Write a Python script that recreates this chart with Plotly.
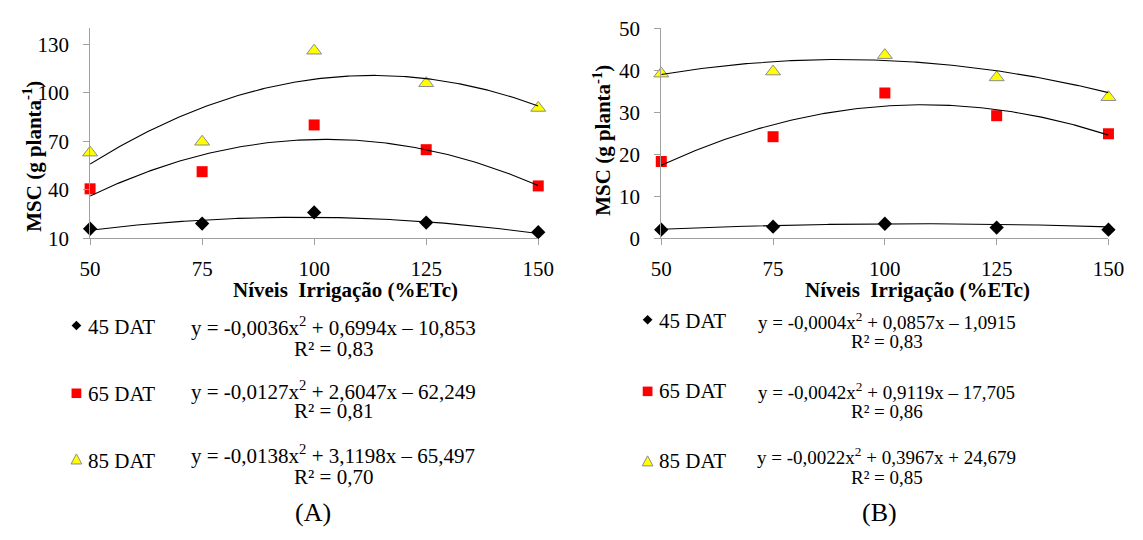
import numpy as np
import plotly.graph_objects as go

W, H = 1143, 540
FONT = "'Liberation Serif', 'Times New Roman', Times, serif"

# ---------------- data ----------------
x_levels = [50, 75, 100, 125, 150]
x_ticks = [50, 75, 100, 125, 150]

# Panel A (MSC, g planta-1)
a_45 = [16.0, 19.2, 26.1, 19.8, 13.9]
a_65 = [40.7, 51.3, 80.2, 64.9, 42.5]
a_85 = [63.1, 69.8, 126.1, 106.0, 90.7]
a_yticks = [10, 40, 70, 100, 130]

# Panel B
b_45 = [2.1, 2.8, 3.5, 2.6, 2.1]
b_65 = [18.3, 24.2, 34.6, 29.2, 24.9]
b_85 = [39.2, 39.7, 43.6, 38.3, 33.6]
b_yticks = [0, 10, 20, 30, 40, 50]

# quadratic trend coefficients shown in the figure (a2, a1, a0)
coef_a45 = [-0.0036, 0.6994, -10.853]
coef_a65 = [-0.0127, 2.6047, -62.249]
coef_a85 = [-0.0138, 3.1198, -65.497]
coef_b45 = [-0.0004, 0.0857, -1.0915]
coef_b65 = [-0.0042, 0.9119, -17.705]
coef_b85 = [-0.0022, 0.3967, 24.679]

series_names = ["45 DAT", "65 DAT", "85 DAT"]
eq_a = ["y = -0,0036x<sup>2</sup> + 0,6994x – 10,853",
        "y = -0,0127x<sup>2</sup> + 2,6047x – 62,249",
        "y = -0,0138x<sup>2</sup> + 3,1198x – 65,497"]
r2_a = ["R² = 0,83", "R² = 0,81", "R² = 0,70"]
eq_b = ["y = -0,0004x<sup>2</sup> + 0,0857x – 1,0915",
        "y = -0,0042x<sup>2</sup> + 0,9119x – 17,705",
        "y = -0,0022x<sup>2</sup> + 0,3967x + 24,679"]
r2_b = ["R² = 0,83", "R² = 0,86", "R² = 0,85"]

# ---------------- helpers ----------------
def px(x):
    return x / W

def py(y):
    return 1 - y / H

AXC = "#a0a0a0"
marker_styles = [
    dict(symbol="diamond", size=11, color="black", line=dict(width=0)),
    dict(symbol="square", size=11, color="#ff0000", line=dict(width=0)),
    dict(symbol="triangle-up", size=13, color="#ffff00", line=dict(width=1, color="#8c8c8c")),
]

fig = go.Figure()

xs = np.linspace(50, 150, 201)
panels = [
    ("x", "y", [a_45, a_65, a_85], [coef_a45, coef_a65, coef_a85]),
    ("x2", "y2", [b_45, b_65, b_85], [coef_b45, coef_b65, coef_b85]),
]
for xa, ya, vals, coefs in panels:
    for name, v, ms in zip(series_names, vals, marker_styles):
        fig.add_trace(go.Scatter(x=x_levels, y=v, mode="markers", marker=ms,
                                 name=name, xaxis=xa, yaxis=ya, cliponaxis=False,
                                 showlegend=False))
    for c in coefs:
        fig.add_trace(go.Scatter(x=xs, y=np.polyval(c, xs), mode="lines",
                                 line=dict(color="black", width=1.1),
                                 xaxis=xa, yaxis=ya, cliponaxis=False,
                                 showlegend=False, hoverinfo="skip"))

ydom = [py(237), py(17)]
common_x = dict(range=[50, 150], tickvals=x_ticks, showline=True, linecolor=AXC,
                linewidth=1, ticks="outside", ticklen=6, tickcolor=AXC,
                showgrid=False, zeroline=False,
                tickfont=dict(family=FONT, size=21, color="black"),
                ticklabelstandoff=5)
common_y = dict(showline=True, linecolor=AXC, linewidth=1, ticks="outside",
                ticklen=6, tickcolor=AXC, showgrid=False, zeroline=False,
                tickfont=dict(family=FONT, size=21, color="black"),
                ticklabelstandoff=10)

fig.update_layout(
    width=W, height=H, margin=dict(l=0, r=0, t=0, b=0),
    font=dict(family=FONT, color="black"),
    paper_bgcolor="white", plot_bgcolor="white", showlegend=False,
    xaxis=dict(domain=[px(81), px(540)], anchor="y", **common_x),
    yaxis=dict(domain=ydom, anchor="x", range=[10, 140], tickvals=a_yticks, **common_y),
    xaxis2=dict(domain=[px(666), px(1124)], anchor="y2", **common_x),
    yaxis2=dict(domain=ydom, anchor="x2", range=[0, 50], tickvals=b_yticks, **common_y),
)

ann = []
def text(x, y, s, size=20, bold=False, angle=0, xanchor="center"):
    if bold:
        s = "<b>" + s + "</b>"
    ann.append(dict(x=px(x), y=py(y), xref="paper", yref="paper", text=s,
                    showarrow=False, xanchor=xanchor, yanchor="middle",
                    textangle=angle,
                    font=dict(family=FONT, size=size, color="black")))

# axis titles
text(343, 291, "Níveis  Irrigação (%ETc)", size=21, bold=True)
text(928, 291, "Níveis  Irrigação (%ETc)", size=21, bold=True)
text(22, 151, "MSC (g planta<sup>-1</sup>)", size=21, bold=True, angle=-90)
text(605, 134, "MSC (g planta<sup>-1</sup>)", size=21, bold=True, angle=-90)

# legends / equations
rows_a = [(330, 329, 353), (400, 396, 418), (470, 463, 487)]
rows_b = [(323, 323, 345), (397, 397, 418), (470, 465, 487)]
for i in range(3):
    ly, ey, ry = rows_a[i]
    text(77, ly, series_names[i], size=21, xanchor="left")
    text(330, ey, eq_a[i], size=21)
    text(330, ry, r2_a[i], size=21)
    ly, ey, ry = rows_b[i]
    text(662, ly, series_names[i], size=21, xanchor="left")
    text(897, ey, eq_b[i], size=19)
    text(897, ry, r2_b[i], size=19)

text(309, 524, "(A)", size=26)
text(889, 524, "(B)", size=26)
fig.update_layout(annotations=ann)

# legend symbols as shapes
shapes = []
def diamond(cx, cy, r=5):
    return dict(type="path", xref="paper", yref="paper",
                path=f"M {px(cx)} {py(cy - r)} L {px(cx + r)} {py(cy)} L {px(cx)} {py(cy + r)} L {px(cx - r)} {py(cy)} Z",
                fillcolor="black", line=dict(width=0))
def square(cx, cy, r=5):
    return dict(type="rect", xref="paper", yref="paper",
                x0=px(cx - r), x1=px(cx + r), y0=py(cy + r), y1=py(cy - r),
                fillcolor="#ff0000", line=dict(width=0))
def triangle(cx, cy, r=5.5):
    return dict(type="path", xref="paper", yref="paper",
                path=f"M {px(cx)} {py(cy - r)} L {px(cx + r)} {py(cy + r - 0.5)} L {px(cx - r)} {py(cy + r - 0.5)} Z",
                fillcolor="#ffff00", line=dict(width=1, color="#8c8c8c"))

shapes += [diamond(67, 328), square(67, 399), triangle(67, 468)]
shapes += [diamond(652, 322), square(652, 397), triangle(652, 470)]
fig.update_layout(shapes=shapes)

fig.write_html("out.html")
